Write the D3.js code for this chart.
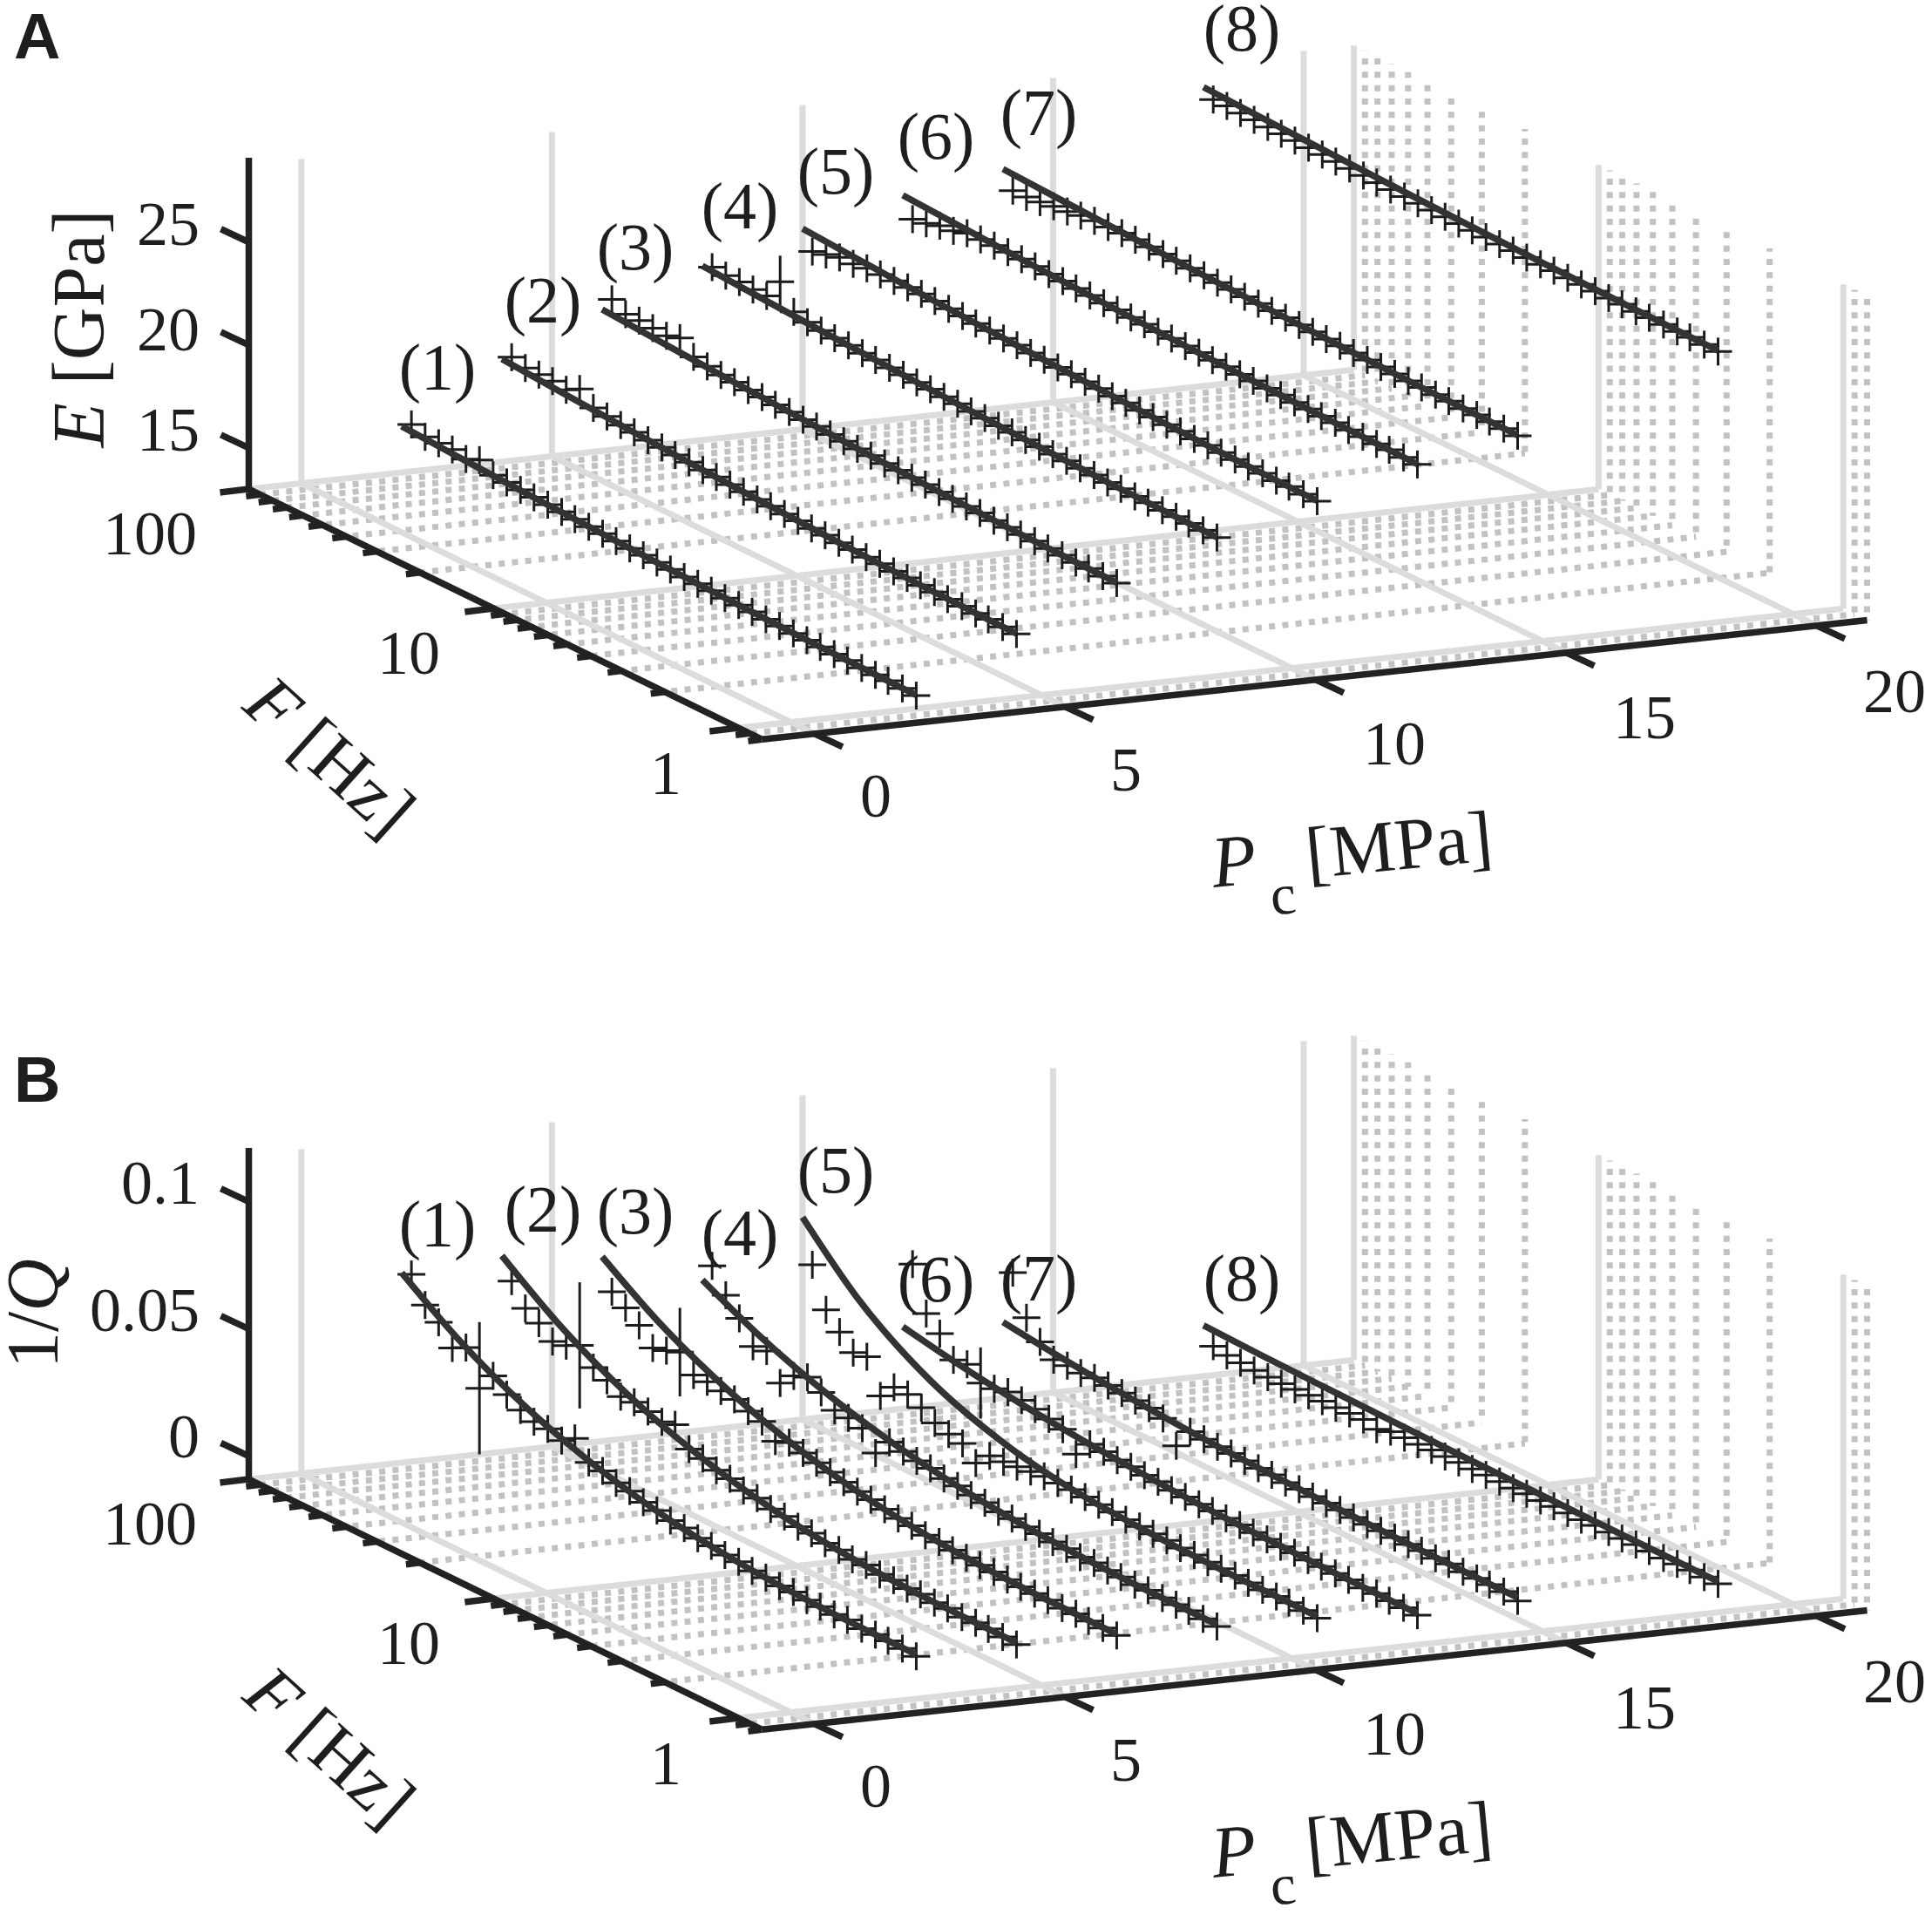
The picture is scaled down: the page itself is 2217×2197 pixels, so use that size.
<!DOCTYPE html>
<html>
<head>
<meta charset="utf-8">
<title>E and 1/Q against frequency and confining pressure</title>
<script src="https://cdn.jsdelivr.net/npm/d3@7"></script>
<style>
  body { margin: 0; background: #fff; }
  text { font-family: "Liberation Serif", serif; fill: #1e1e1e; }
</style>
</head>
<body>
<div id="chart"></div>
<script>
// ---- data ----
const seriesLabels = ["(1)", "(2)", "(3)", "(4)", "(5)", "(6)", "(7)", "(8)"];
const pressures = [2, 4, 6, 8, 10, 12, 14, 18]; // MPa

const pTicks = [0, 5, 10, 15, 20];
const fMajorTicks = [100, 10, 1];
const fMinorTicks = [90, 80, 70, 60, 50, 40, 30, 20, 9, 8, 7, 6, 5, 4, 3, 2, 0.9, 0.8];
const eTicks = [15, 20, 25];
const qTicks = [0, 0.05, 0.1];

// frequency of each measured cross, Hz
const frequencies = [91.2, 80.2, 70.6, 62.1, 54.6, 48.1, 42.3, 37.2, 32.7, 28.8, 25.3, 22.2, 19.6, 17.2, 15.1, 13.3, 11.7, 10.3, 9.06,
  7.98, 7.01, 6.17, 5.43, 4.78, 4.2, 3.7, 3.25, 2.86, 2.51, 2.21, 1.95, 1.71, 1.51, 1.32, 1.16, 1.03, 0.9, 0.79];
// frequencies where the fitted curves are sampled
const fitFrequencies = [100, 60, 30, 15, 8, 4, 2, 1, 0.79];

// E [GPa], measured
const eMeasured = [
  [15.57, 15.29, 15.3, 15.32, 15.18, 15.45, 15.04, 15.01, 14.97, 14.93, 14.9, 14.88, 14.84, 14.8, 14.79, 14.75, 14.72, 14.71, 14.68, 14.66, 14.62, 14.61, 14.6, 14.56, 14.55, 14.54, 14.5, 14.5, 14.47, 14.46, 14.45, 14.43, 14.43, 14.41, 14.4, 14.41, 14.38, 14.36],
  [18.31, 18.11, 18.11, 18.12, 18.02, 18.38, 17.78, 17.69, 17.6, 17.57, 17.51, 17.49, 17.43, 17.41, 17.36, 17.34, 17.29, 17.27, 17.22, 17.21, 17.16, 17.15, 17.1, 17.09, 17.05, 17.04, 17, 17, 16.96, 16.96, 16.92, 16.92, 16.89, 16.89, 16.86, 16.87, 16.84, 16.83],
  [20.6, 20.2, 20.21, 20.17, 20.12, 20.33, 19.74, 19.6, 19.51, 19.48, 19.42, 19.41, 19.35, 19.33, 19.28, 19.27, 19.21, 19.2, 19.15, 19.14, 19.09, 19.08, 19.04, 19.03, 18.99, 18.98, 18.94, 18.94, 18.9, 18.9, 18.86, 18.87, 18.83, 18.84, 18.81, 18.82, 18.79, 18.78],
  [21.64, 21.55, 21.56, 21.52, 21.53, 22.54, 21.4, 21.22, 21.14, 21.09, 21.07, 21.02, 21, 20.95, 20.94, 20.89, 20.88, 20.83, 20.82, 20.77, 20.77, 20.72, 20.72, 20.67, 20.67, 20.63, 20.63, 20.59, 20.59, 20.55, 20.56, 20.52, 20.53, 20.5, 20.51, 20.48, 20.49, 20.47],
  [21.87, 22.05, 22.23, 22.24, 22.35, 22.37, 22.38, 22.39, 22.4, 22.37, 22.32, 22.3, 22.25, 22.24, 22.18, 22.17, 22.12, 22.11, 22.06, 22.05, 22.01, 22, 21.95, 21.95, 21.91, 21.9, 21.86, 21.86, 21.82, 21.83, 21.79, 21.79, 21.76, 21.77, 21.74, 21.75, 21.72, 21.71],
  [22.92, 23.04, 23.25, 23.32, 23.53, 23.55, 23.57, 23.58, 23.56, 23.53, 23.48, 23.47, 23.43, 23.42, 23.37, 23.36, 23.32, 23.31, 23.27, 23.26, 23.22, 23.22, 23.18, 23.18, 23.14, 23.14, 23.1, 23.1, 23.07, 23.07, 23.04, 23.05, 23.01, 23.02, 23, 23.01, 22.98, 22.97],
  [23.78, 23.8, 23.87, 23.99, 24.06, 24.18, 24.25, 24.27, 24.3, 24.3, 24.28, 24.26, 24.25, 24.21, 24.2, 24.16, 24.16, 24.12, 24.11, 24.08, 24.07, 24.04, 24.03, 24, 24, 23.97, 23.96, 23.94, 23.93, 23.91, 23.91, 23.89, 23.89, 23.87, 23.88, 23.86, 23.86, 23.84],
  [27.16, 27.17, 27.15, 27.14, 27.12, 27.11, 27.1, 27.08, 27.07, 27.05, 27.04, 27.03, 27, 26.99, 26.98, 26.97, 26.96, 26.96, 26.95, 26.94, 26.94, 26.92, 26.93, 26.91, 26.91, 26.92, 26.9, 26.9, 26.9, 26.89, 26.9, 26.89, 26.89, 26.9, 26.89, 26.9, 26.89, 26.88]
];
// E, fitted curves at fitFrequencies
const eFit = [
  [15.25, 15.11, 14.93, 14.78, 14.65, 14.54, 14.45, 14.4, 14.39],
  [17.99, 17.8, 17.57, 17.36, 17.2, 17.05, 16.93, 16.86, 16.85],
  [19.88, 19.7, 19.48, 19.29, 19.13, 18.99, 18.88, 18.81, 18.8],
  [21.47, 21.31, 21.11, 20.93, 20.78, 20.65, 20.55, 20.49, 20.48],
  [22.75, 22.58, 22.37, 22.19, 22.04, 21.91, 21.8, 21.74, 21.73],
  [23.85, 23.71, 23.53, 23.38, 23.25, 23.14, 23.05, 23, 22.99],
  [24.6, 24.48, 24.33, 24.19, 24.09, 23.99, 23.91, 23.87, 23.86],
  [27.53, 27.43, 27.31, 27.2, 27.11, 27.03, 26.97, 26.93, 26.93]
];
// half length of the long error bar at 48.1 Hz, one per series, 0 = none
const eError = [0, 0, 0, 1.27, 0, 0, 0, 0];

// 1/Q, measured
const qMeasured = [
  [0.0668, 0.0574, 0.0532, 0.0457, 0.0485, 0.0351, 0.0426, 0.0378, 0.0344, 0.0324, 0.0322, 0.0303, 0.0337, 0.0269, 0.0262, 0.0241, 0.0235, 0.0217, 0.0211, 0.0197, 0.0194, 0.018, 0.0176, 0.0166, 0.0166, 0.0156, 0.0156, 0.0149, 0.0152, 0.0146, 0.0146, 0.0142, 0.0146, 0.0139, 0.0142, 0.0142, 0.0139, 0.0135],
  [0.0599, 0.0518, 0.0486, 0.044, 0.045, 0.0477, 0.0416, 0.0392, 0.0354, 0.0358, 0.0348, 0.0334, 0.0348, 0.0279, 0.0269, 0.0248, 0.0241, 0.0221, 0.0217, 0.02, 0.0197, 0.0183, 0.0183, 0.017, 0.017, 0.0159, 0.0163, 0.0152, 0.0156, 0.0149, 0.0152, 0.0146, 0.0149, 0.0142, 0.0146, 0.0146, 0.0142, 0.0139],
  [0.0515, 0.0478, 0.0435, 0.0372, 0.0388, 0.0408, 0.0344, 0.0344, 0.0334, 0.0327, 0.0307, 0.0293, 0.0241, 0.0262, 0.0248, 0.0235, 0.0224, 0.0211, 0.02, 0.0194, 0.0183, 0.0173, 0.017, 0.0159, 0.0159, 0.0152, 0.0149, 0.0146, 0.0146, 0.0142, 0.0139, 0.0139, 0.0139, 0.0135, 0.0139, 0.0135, 0.0135, 0.0132],
  [0.0574, 0.0485, 0.042, 0.0336, 0.0344, 0.0244, 0.0298, 0.0319, 0.0286, 0.0241, 0.0238, 0.0224, 0.0152, 0.0221, 0.0211, 0.02, 0.0197, 0.0183, 0.018, 0.017, 0.0166, 0.0156, 0.0156, 0.0149, 0.0149, 0.0142, 0.0142, 0.0135, 0.0139, 0.0135, 0.0135, 0.0132, 0.0135, 0.0132, 0.0132, 0.0132, 0.0128, 0.0125],
  [0.0536, 0.0385, 0.0324, 0.0269, 0.0279, 0.0151, 0.0211, 0.0209, 0.0183, 0.0149, 0.0132, 0.0122, 0.007, 0.0125, 0.0128, 0.0135, 0.0142, 0.0149, 0.0149, 0.0149, 0.0146, 0.0142, 0.0139, 0.0135, 0.0135, 0.0132, 0.0132, 0.0128, 0.0128, 0.0125, 0.0125, 0.0125, 0.0122, 0.0122, 0.0122, 0.0122, 0.0118, 0.0115],
  [0.0496, 0.0328, 0.0275, 0.0198, 0.0207, 0.0159, 0.0163, 0.0176, 0.017, 0.0161, 0.0149, 0.0135, 0.0063, 0.0128, 0.0125, 0.0118, 0.0118, 0.0111, 0.0111, 0.0104, 0.0104, 0.0101, 0.0101, 0.0098, 0.0098, 0.0094, 0.0094, 0.0091, 0.0094, 0.0091, 0.0091, 0.0091, 0.0091, 0.0087, 0.0091, 0.0087, 0.0087, 0.0084],
  [0.042, 0.0269, 0.02, 0.0156, 0.0159, 0.0156, 0.0163, 0.0159, 0.0156, 0.0152, 0.0149, 0.0135, 0.0053, 0.0135, 0.0132, 0.0128, 0.0128, 0.0125, 0.0122, 0.0122, 0.0118, 0.0118, 0.0115, 0.0115, 0.0115, 0.0111, 0.0111, 0.0111, 0.0111, 0.0111, 0.0111, 0.0108, 0.0111, 0.0108, 0.0108, 0.0108, 0.0108, 0.0098],
  [0.0046, 0.0036, 0.0033, 0.0029, 0.0029, 0.0029, 0.0033, 0.0036, 0.0039, 0.0039, 0.0043, 0.0046, 0.0033, 0.005, 0.0053, 0.0053, 0.0057, 0.0057, 0.006, 0.006, 0.0063, 0.0063, 0.0063, 0.0067, 0.0067, 0.007, 0.007, 0.007, 0.0074, 0.0074, 0.0074, 0.0077, 0.0077, 0.0077, 0.008, 0.008, 0.008, 0.008]
];
// 1/Q, fitted curves at fitFrequencies
const qFit = [
  [0.0656, 0.0509, 0.036, 0.0259, 0.0198, 0.0161, 0.0145, 0.0142, 0.0142],
  [0.068, 0.0527, 0.0372, 0.0267, 0.0204, 0.0165, 0.0149, 0.0146, 0.0146],
  [0.0634, 0.0491, 0.0348, 0.025, 0.0191, 0.0155, 0.014, 0.0137, 0.0137],
  [0.05, 0.0395, 0.0288, 0.0215, 0.0172, 0.0146, 0.0134, 0.0132, 0.0132],
  [0.0704, 0.0494, 0.0307, 0.0202, 0.0152, 0.013, 0.0122, 0.0122, 0.0122],
  [0.0231, 0.0191, 0.015, 0.0123, 0.0106, 0.0096, 0.0092, 0.0091, 0.0091],
  [0.0207, 0.018, 0.0152, 0.0133, 0.0122, 0.0115, 0.0112, 0.0111, 0.0111],
  [0.0109, 0.0103, 0.0098, 0.0094, 0.0091, 0.009, 0.0089, 0.0089, 0.0089]
];
const qError = [0.026, 0.0248, 0.0174, 0, 0, 0.014, 0, 0];

// ---- layout ----
const width = 2217, height = 2197;
const wallPx = 372;       // height of the grid walls
const ink = "#222", gridColor = "#dcdcdc", dotColor = "#c2c2c2";
const dotPattern = "7 8.33";

const svg = d3.select("#chart").append("svg")
  .attr("width", width)
  .attr("height", height);

// oblique projection built from plain scales
const pX = d3.scaleLinear().domain([-1.05, 21]).range([0, 1268]);
const pY = d3.scaleLinear().domain([-1.05, 21]).range([0, -136.7]);
const fX = d3.scaleLog().domain([100, 0.8]).range([0, 589]);
const fY = d3.scaleLog().domain([100, 0.8]).range([0, 287.3]);

function drawPanel(cfg) {
  const g = svg.append("g").attr("transform", "translate(285.5," + cfg.top + ")");
  const zY = d3.scaleLinear().domain(cfg.zDomain).range([0, -380]);

  const px = (p, f) => pX(p) + fX(f);
  const py = (p, f, dz) => pY(p) + fY(f) + (dz || 0);

  const pMin = pX.domain()[0], pMax = pX.domain()[1];
  const fTop = 100, fEnd = 0.8;

  // dotted floor rows and right wall columns, one per minor frequency
  // the dash offsets keep the dots lined up from one row to the next
  g.append("g").selectAll("line").data(fMinorTicks).enter().append("line")
    .attr("x1", d => px(pMin, d)).attr("y1", d => py(pMin, d))
    .attr("x2", d => px(pMax, d)).attr("y2", d => py(pMax, d))
    .attr("stroke", dotColor).attr("stroke-width", 7)
    .attr("stroke-dasharray", dotPattern)
    .attr("stroke-dashoffset", d => px(pMin, d) * 1.006 - 319.1);
  g.append("g").selectAll("line").data(fMinorTicks).enter().append("line")
    .attr("x1", d => px(pMax, d)).attr("y1", d => py(pMax, d))
    .attr("x2", d => px(pMax, d)).attr("y2", d => py(pMax, d, -wallPx))
    .attr("stroke", dotColor).attr("stroke-width", 7)
    .attr("stroke-dasharray", dotPattern)
    .attr("stroke-dashoffset", d => -py(pMax, d) - 195.7);

  // solid major grid
  const major = g.append("g").attr("stroke", gridColor).attr("stroke-width", 7);
  major.selectAll(".fRow").data(fMajorTicks).enter().append("line")
    .attr("x1", d => px(pMin, d)).attr("y1", d => py(pMin, d))
    .attr("x2", d => px(pMax, d)).attr("y2", d => py(pMax, d));
  major.selectAll(".fCol").data(fMajorTicks).enter().append("line")
    .attr("x1", d => px(pMax, d)).attr("y1", d => py(pMax, d))
    .attr("x2", d => px(pMax, d)).attr("y2", d => py(pMax, d, -wallPx));
  major.selectAll(".pRow").data(pTicks).enter().append("line")
    .attr("x1", d => px(d, fTop)).attr("y1", d => py(d, fTop))
    .attr("x2", d => px(d, fEnd)).attr("y2", d => py(d, fEnd));
  major.selectAll(".pCol").data(pTicks).enter().append("line")
    .attr("x1", d => px(d, fTop)).attr("y1", d => py(d, fTop))
    .attr("x2", d => px(d, fTop)).attr("y2", d => py(d, fTop, -wallPx));

  // axes
  const axes = g.append("g").attr("stroke", ink).attr("stroke-width", 7.5);
  axes.append("line") // F axis
    .attr("x1", px(pMin, fTop)).attr("y1", py(pMin, fTop))
    .attr("x2", px(pMin, fEnd)).attr("y2", py(pMin, fEnd));
  axes.append("line") // P axis
    .attr("x1", px(pMin, fEnd)).attr("y1", py(pMin, fEnd))
    .attr("x2", px(pMax, fEnd)).attr("y2", py(pMax, fEnd));
  axes.append("line") // z axis
    .attr("x1", 0).attr("y1", 0).attr("x2", 0).attr("y2", -380);

  axes.selectAll(".zTick").data(cfg.zTicks).enter().append("line")
    .attr("x1", 0).attr("y1", d => zY(d))
    .attr("x2", -32).attr("y2", d => zY(d) - 15);
  axes.selectAll(".pTick").data(pTicks).enter().append("line")
    .attr("x1", d => px(d, fEnd)).attr("y1", d => py(d, fEnd))
    .attr("x2", d => px(d, fEnd) + 32).attr("y2", d => py(d, fEnd) + 15);
  axes.selectAll(".fTick").data(fMajorTicks).enter().append("line")
    .attr("x1", d => px(pMin, d)).attr("y1", d => py(pMin, d))
    .attr("x2", d => px(pMin, d) - 33).attr("y2", d => py(pMin, d) + 4);
  axes.selectAll(".fMinor").data(fMinorTicks).enter().append("line")
    .attr("x1", d => px(pMin, d)).attr("y1", d => py(pMin, d))
    .attr("x2", d => px(pMin, d) - 16).attr("y2", d => py(pMin, d) + 2);

  // measured crosses, with the occasional long error bar
  const line = d3.line().curve(d3.curveMonotoneX);
  pressures.forEach((p, s) => {
    const crosses = g.append("g").attr("stroke", "#1c1c1c").attr("stroke-width", 3);
    const pts = cfg.measured[s].map((v, k) => ({
      x: px(p, frequencies[k]),
      y: py(p, frequencies[k]) + zY(v),
      half: frequencies[k] === 48.1 && cfg.errors[s] > 0
        ? zY(0) - zY(cfg.errors[s]) : 16
    }));
    crosses.selectAll(".h").data(pts).enter().append("line")
      .attr("x1", d => d.x - 16).attr("x2", d => d.x + 16)
      .attr("y1", d => d.y).attr("y2", d => d.y);
    crosses.selectAll(".v").data(pts).enter().append("line")
      .attr("x1", d => d.x).attr("x2", d => d.x)
      .attr("y1", d => d.y - d.half).attr("y2", d => d.y + d.half);

    g.append("path")
      .attr("d", line(cfg.fit[s].map((v, k) => [
        px(p, fitFrequencies[k]),
        py(p, fitFrequencies[k]) + zY(v)
      ])))
      .attr("fill", "none").attr("stroke", "#333").attr("stroke-width", 7.5);
  });

  // tick labels, absolute page positions
  const t = svg.append("g").attr("font-size", 72);
  const put = (label, x, y, anchor) => t.append("text")
    .attr("x", x).attr("y", y).attr("text-anchor", anchor).text(label);
  cfg.zLabels.forEach(d => put(d[0], 229, d[1], "end"));
  put("100", 226, cfg.dy + 636, "end");
  put("10", 505, cfg.dy + 773, "end");
  put("1", 782, cfg.dy + 911, "end");
  pTicks.forEach((d, i) => put(String(d), [1005, 1292, 1600, 1887, 2174][i],
    cfg.dy + [937, 907, 877, 847, 817][i], "middle"));

  // series labels
  const labelX = [502, 623, 729, 849, 959, 1074, 1192, 1425];
  seriesLabels.forEach((d, i) => svg.append("text")
    .attr("x", labelX[i]).attr("y", cfg.labelY[i])
    .attr("text-anchor", "middle").attr("font-size", 76).text(d));

  // axis titles
  const zt = svg.append("text").attr("font-size", 84).attr("text-anchor", "middle")
    .attr("transform", "translate(" + cfg.zTitle[0] + "," + cfg.zTitle[1] + ")rotate(-90)");
  cfg.zTitleParts.forEach(d => zt.append("tspan").attr("font-style", d[1]).text(d[0]));

  const ft = svg.append("text").attr("font-size", 84).attr("text-anchor", "middle")
    .attr("transform", "translate(360," + (cfg.dy + 888) + ")rotate(42)");
  ft.append("tspan").attr("font-style", "italic").text("F");
  ft.append("tspan").text(" [Hz]");

  const pt = svg.append("text").attr("font-size", 84)
    .attr("transform", "translate(1393," + (cfg.dy + 1018) + ")rotate(-5.5)");
  pt.append("tspan").attr("font-style", "italic").text("P");
  pt.append("tspan").attr("dx", 12).attr("dy", 38).attr("font-size", 66).text("c");
  pt.append("tspan").attr("dx", 16).attr("dy", -38).text("[MPa]");

  // panel letter
  svg.append("text").attr("x", cfg.letterAt[0]).attr("y", cfg.letterAt[1])
    .attr("font-size", 74).attr("font-weight", "bold")
    .style("font-family", "'Liberation Sans', Arial, sans-serif")
    .text(cfg.letter);
}

drawPanel({
  top: 561, dy: 0, letter: "A", letterAt: [16, 67],
  zDomain: [13, 29.1], zTicks: eTicks,
  measured: eMeasured, fit: eFit, errors: eError,
  zLabels: [["25", 281], ["20", 402], ["15", 517]],
  labelY: [447, 370, 309, 262, 222, 182, 155, 58],
  zTitle: [119, 377], zTitleParts: [["E", "italic"], [" [GPa]", "normal"]]
});

drawPanel({
  top: 1697, dy: 1136, letter: "B", letterAt: [16, 1264],
  zDomain: [-0.00908, 0.1211], zTicks: qTicks,
  measured: qMeasured, fit: qFit, errors: qError,
  zLabels: [["0.1", 1381], ["0.05", 1527], ["0", 1672]],
  labelY: [1430, 1413, 1415, 1440, 1368, 1493, 1492, 1492],
  zTitle: [66, 1507], zTitleParts: [["1/", "normal"], ["Q", "italic"]]
});
</script>
</body>
</html>
